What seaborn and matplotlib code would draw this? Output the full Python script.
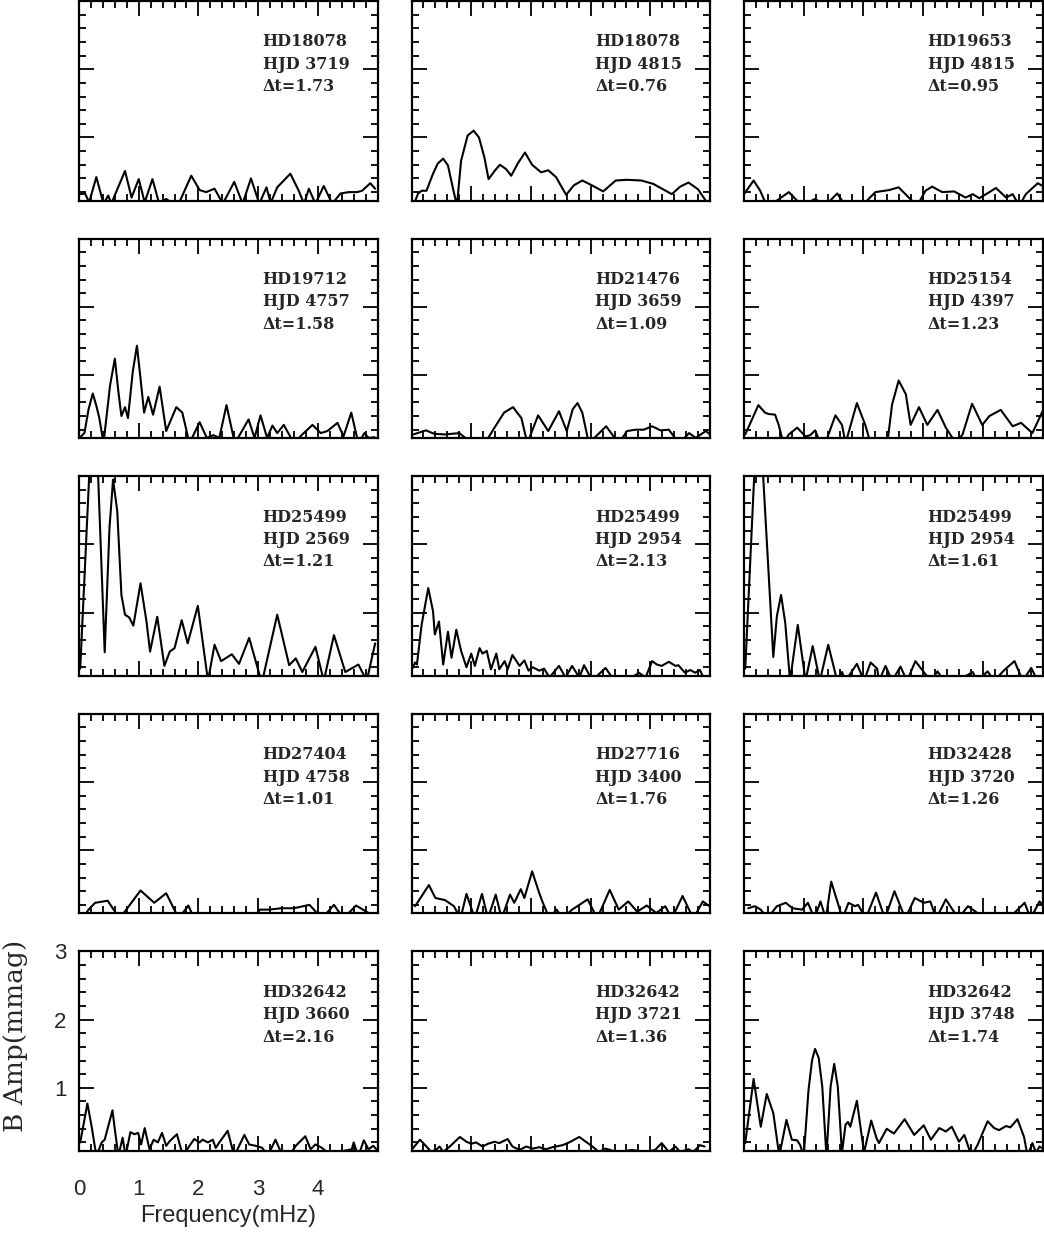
import matplotlib
matplotlib.use("Agg")
import matplotlib.pyplot as plt
import seaborn as sns
from matplotlib.ticker import MultipleLocator

# panel labels (row by row)
stars = ["HD18078", "HD18078", "HD19653",
         "HD19712", "HD21476", "HD25154",
         "HD25499", "HD25499", "HD25499",
         "HD27404", "HD27716", "HD32428",
         "HD32642", "HD32642", "HD32642"]
hjd = ["3719", "4815", "4815", "4757", "3659", "4397", "2569", "2954",
       "2954", "4758", "3400", "3720", "3660", "3721", "3748"]
dt = ["1.73", "0.76", "0.95", "1.58", "1.09", "1.23", "1.21", "2.13",
      "1.61", "1.01", "1.76", "1.26", "2.16", "1.36", "1.74"]

# amplitude spectra, frequency in mHz, amplitude in mmag
f1 = [0.02, 0.10, 0.17, 0.29, 0.41, 0.49, 0.54, 0.77, 0.88, 1.00, 1.10, 1.23, 1.34, 1.46, 1.54, 1.68, 1.88, 2.02, 2.13, 2.27,
      2.41, 2.60, 2.74, 2.88, 3.02, 3.14, 3.21, 3.32, 3.54, 3.68, 3.77, 3.85, 3.96, 4.10, 4.24, 4.38, 4.52, 4.66, 4.74, 4.88, 4.96]
a1 = [0.17, 0.18, 0.05, 0.42, 0.03, 0.15, 0.03, 0.51, 0.12, 0.39, 0.05, 0.39, 0.04, 0.10, 0.05, 0.05, 0.44, 0.23, 0.20, 0.25,
      0.03, 0.35, 0.03, 0.40, 0.03, 0.27, 0.04, 0.27, 0.47, 0.22, 0.03, 0.25, 0.03, 0.29, 0.03, 0.18, 0.20, 0.20, 0.22, 0.33, 0.25]

f2 = [0.03, 0.11, 0.17, 0.25, 0.36, 0.44, 0.53, 0.61, 0.69, 0.76, 0.83, 0.94, 1.04, 1.13, 1.22, 1.29, 1.40, 1.48, 1.58, 1.67,
      1.78, 1.90, 2.02, 2.17, 2.29, 2.42, 2.59, 2.72, 2.86, 3.02, 3.21, 3.42, 3.60, 3.85, 4.05, 4.36, 4.50, 4.64, 4.80, 4.97]
a2 = [0.00, 0.18, 0.22, 0.22, 0.47, 0.62, 0.69, 0.59, 0.27, 0.00, 0.66, 1.03, 1.10, 1.00, 0.71, 0.39, 0.52, 0.60, 0.54, 0.44,
      0.62, 0.78, 0.60, 0.49, 0.52, 0.42, 0.16, 0.30, 0.37, 0.30, 0.21, 0.37, 0.38, 0.37, 0.32, 0.17, 0.28, 0.34, 0.24, 0.02]

f3 = [0.00, 0.16, 0.27, 0.38, 0.46, 0.75, 0.97, 1.19, 1.36, 1.56, 1.70, 2.03, 2.20, 2.43, 2.59, 2.76,
      2.90, 3.04, 3.15, 3.32, 3.52, 3.71, 3.83, 3.94, 4.11, 4.22, 4.39, 4.50, 4.61, 4.72, 4.92, 5.00]
a3 = [0.17, 0.37, 0.22, 0.00, 0.02, 0.20, 0.00, 0.10, 0.00, 0.18, 0.00, 0.05, 0.20, 0.23, 0.27, 0.12,
      0.00, 0.22, 0.28, 0.20, 0.21, 0.12, 0.17, 0.11, 0.20, 0.26, 0.12, 0.17, 0.00, 0.17, 0.33, 0.29]

f4 = [0.03, 0.09, 0.16, 0.23, 0.29, 0.34, 0.41, 0.52, 0.60, 0.66, 0.71, 0.77, 0.82, 0.90, 0.97, 1.03, 1.09, 1.16, 1.24, 1.35,
      1.46, 1.63, 1.73, 1.85, 2.02, 2.14, 2.25, 2.35, 2.47, 2.61, 2.84, 2.94, 3.04, 3.15, 3.24, 3.32, 3.43, 3.60, 3.74, 3.91,
      4.05, 4.16, 4.33, 4.43, 4.56, 4.68, 4.78, 4.85, 4.95]
a4 = [0.10, 0.15, 0.50, 0.73, 0.55, 0.37, 0.00, 0.85, 1.24, 0.75, 0.40, 0.53, 0.37, 1.05, 1.43, 0.95, 0.45, 0.68, 0.42, 0.83,
      0.18, 0.53, 0.45, 0.00, 0.31, 0.08, 0.12, 0.08, 0.56, 0.00, 0.35, 0.08, 0.41, 0.08, 0.26, 0.15, 0.27, 0.00, 0.13, 0.27,
      0.15, 0.18, 0.30, 0.10, 0.45, 0.00, 0.15, 0.08, 0.09]

f5 = [0.03, 0.24, 0.38, 0.56, 0.80, 0.97, 1.25, 1.39, 1.55, 1.70, 1.84, 1.94, 2.12, 2.29, 2.47, 2.60, 2.70,
      2.78, 2.86, 2.97, 3.26, 3.47, 3.61, 3.75, 3.89, 4.03, 4.17, 4.31, 4.48, 4.65, 4.76, 4.93, 5.00]
a5 = [0.13, 0.19, 0.14, 0.13, 0.15, 0.03, 0.03, 0.23, 0.45, 0.53, 0.37, 0.00, 0.41, 0.18, 0.47, 0.18, 0.50,
      0.59, 0.45, 0.00, 0.25, 0.00, 0.18, 0.20, 0.20, 0.25, 0.19, 0.20, 0.00, 0.15, 0.08, 0.18, 0.13]

f6 = [0.02, 0.24, 0.35, 0.41, 0.52, 0.58, 0.66, 0.75, 0.89, 1.03, 1.11, 1.19, 1.28, 1.36, 1.53, 1.64, 1.70, 1.89, 2.03, 2.12,
      2.40, 2.48, 2.59, 2.71, 2.79, 2.93, 3.07, 3.24, 3.38, 3.55, 3.66, 3.82, 3.99, 4.11, 4.30, 4.50, 4.64, 4.83, 5.00]
a6 = [0.13, 0.56, 0.45, 0.43, 0.42, 0.27, 0.00, 0.13, 0.23, 0.10, 0.12, 0.19, 0.00, 0.00, 0.41, 0.27, 0.00, 0.59, 0.27, 0.00,
      0.00, 0.57, 0.92, 0.72, 0.27, 0.53, 0.27, 0.49, 0.23, 0.00, 0.13, 0.58, 0.27, 0.40, 0.49, 0.25, 0.30, 0.15, 0.47]

f7 = [0.02, 0.17, 0.25, 0.32, 0.43, 0.51, 0.57, 0.64, 0.71, 0.77, 0.84, 0.91, 1.03, 1.13, 1.19, 1.31, 1.43, 1.52, 1.60, 1.72,
      1.82, 1.99, 2.16, 2.27, 2.38, 2.56, 2.68, 2.85, 3.02, 3.07, 3.32, 3.52, 3.63, 3.74, 3.96, 4.10, 4.27, 4.46, 4.68, 4.82, 4.96]
a7 = [0.18, 3.00, 4.20, 3.00, 0.42, 2.24, 2.95, 2.49, 1.26, 0.97, 0.93, 0.81, 1.43, 0.87, 0.43, 0.94, 0.22, 0.43, 0.48, 0.89,
      0.55, 1.10, 0.00, 0.53, 0.29, 0.39, 0.25, 0.63, 0.10, 0.00, 0.97, 0.23, 0.33, 0.13, 0.50, 0.00, 0.67, 0.13, 0.24, 0.00, 0.55]

f8 = [0.02, 0.06, 0.09, 0.17, 0.28, 0.36, 0.39, 0.46, 0.53, 0.61, 0.67, 0.75, 0.83, 0.92, 1.00, 1.06, 1.14, 1.19, 1.26, 1.33,
      1.42, 1.47, 1.56, 1.61, 1.69, 1.81, 1.89, 1.96, 2.03, 2.14, 2.22, 2.31, 2.47, 2.58, 2.69, 2.81, 2.89, 3.00, 3.08, 3.25,
      3.36, 3.50, 3.69, 3.81, 3.92, 4.03, 4.11, 4.19, 4.31, 4.42, 4.47, 4.58, 4.67, 4.75, 4.83, 4.89]
a8 = [0.19, 0.27, 0.24, 0.83, 1.36, 1.02, 0.68, 0.87, 0.24, 0.72, 0.34, 0.75, 0.44, 0.20, 0.40, 0.22, 0.48, 0.40, 0.44, 0.17,
      0.40, 0.17, 0.29, 0.17, 0.38, 0.22, 0.30, 0.15, 0.20, 0.15, 0.18, 0.05, 0.22, 0.05, 0.22, 0.05, 0.23, 0.05, 0.05, 0.19,
      0.05, 0.05, 0.05, 0.12, 0.05, 0.29, 0.24, 0.22, 0.28, 0.22, 0.23, 0.12, 0.16, 0.12, 0.16, 0.05]

f9 = [0.02, 0.17, 0.25, 0.32, 0.49, 0.55, 0.62, 0.69, 0.77, 0.90, 1.03, 1.15, 1.27, 1.41, 1.56, 1.64, 1.70, 1.89, 2.01, 2.12,
      2.23, 2.26, 2.37, 2.48, 2.62, 2.73, 2.87, 3.01, 3.13, 3.24, 3.35, 3.57, 3.83, 3.91, 4.08, 4.19, 4.36, 4.53, 4.67, 4.81, 4.92]
a9 = [0.18, 3.00, 4.20, 3.00, 0.35, 0.95, 1.26, 0.85, 0.00, 0.82, 0.00, 0.51, 0.00, 0.53, 0.00, 0.13, 0.00, 0.25, 0.00, 0.27,
      0.18, 0.00, 0.22, 0.00, 0.21, 0.00, 0.29, 0.13, 0.00, 0.14, 0.00, 0.00, 0.13, 0.00, 0.14, 0.00, 0.16, 0.29, 0.00, 0.19, 0.00]

f10 = [0.06, 0.16, 0.27, 0.48, 0.68, 1.03, 1.26, 1.46, 1.67, 1.83, 1.93, 2.97, 3.03, 3.18, 3.39, 3.60, 3.86, 4.07, 4.27, 4.43, 4.64, 4.85]
a10 = [0.00, 0.13, 0.23, 0.26, 0.00, 0.41, 0.23, 0.37, 0.00, 0.19, 0.00, 0.06, 0.13, 0.13, 0.15, 0.15, 0.20, 0.00, 0.20, 0.00, 0.19, 0.08]

f11 = [0.06, 0.29, 0.40, 0.56, 0.71, 0.82, 0.92, 1.06, 1.18, 1.28, 1.41, 1.51, 1.65, 1.72, 1.83, 1.89, 2.02, 2.14, 2.20,
       2.31, 2.43, 2.53, 2.69, 2.95, 3.11, 3.32, 3.47, 3.63, 3.78, 3.94, 4.10, 4.25, 4.36, 4.54, 4.72, 4.88, 4.99]
a11 = [0.18, 0.49, 0.30, 0.27, 0.18, 0.00, 0.36, 0.00, 0.36, 0.00, 0.35, 0.00, 0.35, 0.23, 0.43, 0.30, 0.69, 0.37, 0.23,
       0.00, 0.13, 0.00, 0.13, 0.28, 0.00, 0.42, 0.13, 0.25, 0.10, 0.19, 0.08, 0.18, 0.00, 0.33, 0.00, 0.25, 0.18]

f12 = [0.07, 0.18, 0.28, 0.39, 0.55, 0.70, 0.81, 0.97, 1.07, 1.18, 1.28, 1.37, 1.46, 1.65, 1.75, 1.86, 1.91, 2.04, 2.21,
       2.36, 2.52, 2.70, 2.86, 3.01, 3.12, 3.22, 3.38, 3.59, 3.75, 3.91, 4.01, 4.33, 4.49, 4.70, 4.80, 4.95, 5.00]
a12 = [0.15, 0.18, 0.13, 0.00, 0.18, 0.23, 0.15, 0.13, 0.23, 0.00, 0.25, 0.00, 0.54, 0.00, 0.23, 0.18, 0.20, 0.00, 0.38,
       0.00, 0.40, 0.00, 0.30, 0.23, 0.25, 0.00, 0.28, 0.00, 0.18, 0.08, 0.05, 0.05, 0.05, 0.23, 0.00, 0.25, 0.20]

f13 = [0.02, 0.14, 0.21, 0.29, 0.38, 0.43, 0.56, 0.60, 0.66, 0.73, 0.78, 0.86, 0.93, 0.99, 1.04, 1.10, 1.18, 1.25, 1.32, 1.39,
       1.46, 1.52, 1.64, 1.74, 1.85, 1.93, 2.02, 2.07, 2.16, 2.24, 2.29, 2.35, 2.49, 2.60, 2.77, 2.85, 2.96, 3.07, 3.16, 3.29,
       3.41, 3.52, 3.63, 3.79, 3.88, 3.96, 4.07, 4.16, 4.29, 4.57, 4.60, 4.68, 4.77, 4.85, 4.93, 4.98]
a13 = [0.20, 0.77, 0.44, 0.00, 0.20, 0.24, 0.67, 0.39, 0.00, 0.27, 0.00, 0.35, 0.32, 0.34, 0.17, 0.41, 0.10, 0.24, 0.20, 0.34,
       0.15, 0.22, 0.32, 0.00, 0.15, 0.25, 0.20, 0.24, 0.20, 0.24, 0.12, 0.20, 0.37, 0.00, 0.31, 0.17, 0.15, 0.12, 0.00, 0.24,
       0.00, 0.00, 0.15, 0.29, 0.10, 0.17, 0.12, 0.05, 0.05, 0.10, 0.20, 0.00, 0.23, 0.10, 0.15, 0.10]

f14 = [0.02, 0.14, 0.25, 0.33, 0.42, 0.47, 0.53, 0.64, 0.81, 0.92, 1.00, 1.08, 1.19, 1.28, 1.39, 1.47, 1.61, 1.69, 1.81, 1.92,
       2.03, 2.14, 2.25, 2.36, 2.53, 2.64, 2.81, 2.92, 3.03, 3.14, 3.25, 3.36, 3.47, 3.69, 3.92, 4.08, 4.19, 4.31, 4.42, 4.50,
       4.64, 4.72, 4.83, 4.91]
a14 = [0.11, 0.24, 0.14, 0.06, 0.10, 0.14, 0.06, 0.14, 0.28, 0.21, 0.18, 0.20, 0.14, 0.18, 0.21, 0.19, 0.25, 0.14, 0.09, 0.14,
       0.11, 0.13, 0.10, 0.13, 0.16, 0.20, 0.28, 0.21, 0.14, 0.06, 0.11, 0.08, 0.06, 0.09, 0.06, 0.09, 0.19, 0.06, 0.14, 0.06,
       0.10, 0.06, 0.16, 0.14]

f15 = [0.02, 0.16, 0.28, 0.38, 0.49, 0.59, 0.71, 0.80, 0.89, 0.94, 1.00, 1.08, 1.14, 1.19, 1.25, 1.31, 1.38, 1.45, 1.51, 1.57,
       1.64, 1.70, 1.74, 1.78, 1.89, 2.01, 2.13, 2.22, 2.26, 2.39, 2.51, 2.69, 2.85, 3.01, 3.13, 3.27, 3.38, 3.48, 3.60, 3.69,
       3.81, 3.91, 4.08, 4.19, 4.27, 4.39, 4.46, 4.58, 4.69, 4.75, 4.83, 4.89, 4.95, 5.00]
a15 = [0.19, 1.13, 0.43, 0.91, 0.63, 0.00, 0.53, 0.24, 0.23, 0.16, 0.00, 0.97, 1.41, 1.57, 1.44, 1.02, 0.00, 1.02, 1.35, 1.02,
       0.05, 0.46, 0.50, 0.43, 0.81, 0.05, 0.52, 0.26, 0.19, 0.40, 0.33, 0.54, 0.31, 0.45, 0.24, 0.41, 0.36, 0.43, 0.21, 0.31,
       0.00, 0.16, 0.51, 0.41, 0.38, 0.44, 0.42, 0.54, 0.28, 0.00, 0.19, 0.05, 0.14, 0.11]

freqs = [f1, f2, f3, f4, f5, f6, f7, f8, f9, f10, f11, f12, f13, f14, f15]
amps = [a1, a2, a3, a4, a5, a6, a7, a8, a9, a10, a11, a12, a13, a14, a15]

sns.set_style("ticks")
plt.rcParams["font.family"] = ["Liberation Sans", "DejaVu Sans"]

fig, axes = plt.subplots(5, 3, figsize=(10.44, 12.34), dpi=100)
fig.subplots_adjust(left=0.0757, right=0.9986, bottom=0.0673, top=0.9992,
                    wspace=0.114, hspace=0.19)

for i, ax in enumerate(axes.flat):
    sns.lineplot(x=freqs[i], y=amps[i], ax=ax, color="black", linewidth=1.5)
    ax.set_xlim(0, 5)
    ax.set_ylim(0.075, 3)
    ax.xaxis.set_major_locator(MultipleLocator(1))
    ax.xaxis.set_minor_locator(MultipleLocator(0.2))
    ax.yaxis.set_major_locator(MultipleLocator(1))
    ax.yaxis.set_minor_locator(MultipleLocator(0.2))
    ax.tick_params(which="both", direction="in", top=True, right=True,
                   labelbottom=False, labelleft=False, color="black")
    ax.tick_params(which="major", length=11, width=1.3)
    ax.tick_params(which="minor", length=5, width=1.3)
    for sp in ax.spines.values():
        sp.set_linewidth(1.6)
        sp.set_color("black")
    ax.set_xlabel("")
    ax.set_ylabel("")
    txt = dict(transform=ax.transAxes, fontsize=11.5, family="DejaVu Serif",
               fontweight="bold", va="center", ha="left")
    ax.text(0.615, 0.795, stars[i], **txt)
    ax.text(0.615, 0.683, "HJD " + hjd[i], **txt)
    ax.text(0.615, 0.570, "\u0394t=" + dt[i], **txt)

ax = axes[4, 0]
ax.set_xticks([0, 1, 2, 3, 4, 5], ["0", "1", "2", "3", "4", ""])
ax.set_yticks([1, 2, 3], ["1", "2", "3"])
ax.set_ylim(0.075, 3)
ax.tick_params(axis="x", which="major", labelbottom=True, labelsize=16, pad=20)
ax.tick_params(axis="y", which="major", labelleft=True, labelsize=16, pad=9)
ax.set_xlabel("Frequency(mHz)", fontsize=17, labelpad=4)
ax.set_ylabel("B Amp(mmag)", fontsize=19, family="DejaVu Serif")
ax.yaxis.set_label_coords(-0.172, 0.575)

fig.savefig("out.png", dpi=100)
